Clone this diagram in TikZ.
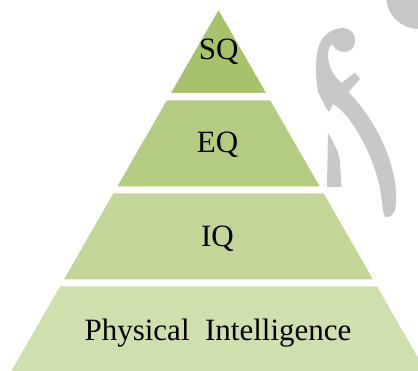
\documentclass[tikz,border=0pt]{standalone}
\usepackage{fontspec}
\setmainfont{Liberation Serif}
\usepackage{xcolor}
\usepackage{tikz}
\definecolor{sqcol}{HTML}{A6C36C}
\definecolor{eqcol}{HTML}{B4CC82}
\definecolor{iqcol}{HTML}{C3D698}
\definecolor{picol}{HTML}{D0DFAE}
\definecolor{wmgray}{HTML}{C8C8C8}

\begin{document}
\begin{tikzpicture}[x=1pt, y=-1pt,
    layer/.style={fill=#1, draw=white, line width=1pt, line join=miter},
    lbl/.style={font=\fontsize{31}{36}\selectfont, text=black, anchor=base, inner sep=0pt}]

    \useasboundingbox (0,0) rectangle (418,371);
    \clip (0,0) rectangle (418,371);

    % ── Watermark (grey f behind the pyramid) ────────────────────────────────
    \fill[wmgray] (419,-4) circle (33);
    \fill[wmgray] (318,92)
        .. controls (315,75) and (315,55) .. (320,43)
        .. controls (325,33) and (334,28) .. (343,28)
        .. controls (350,28) and (355,33) .. (355,41)
        .. controls (355,48) and (350,52) .. (344,52)
        .. controls (338,52) and (334,48) .. (332,44)
        .. controls (328,47) and (327,55) .. (329,63)
        .. controls (331,72) and (336,78) .. (341.5,83)
        -- (355,72.5) -- (360,79) -- (348.5,92)
        .. controls (362,106) and (378,128) .. (388,155)
        .. controls (395,175) and (398,195) .. (395,210)
        .. controls (393,216) and (388,218) .. (385,217)
        .. controls (383,214) and (383,208) .. (382,203)
        .. controls (380,180) and (372,158) .. (360,136)
        .. controls (352,122) and (343,110) .. (333,104)
        -- (329,112) -- (325,106) -- (321,98) -- cycle;
    \fill[wmgray] (328,133)
        .. controls (334,143) and (339,152) .. (340,162)
        -- (341.5,187) -- (327,187) -- cycle;

    % ── Pyramid layers (bottom to top) ───────────────────────────────────────
    \filldraw[layer=picol] (59.5,286) -- (377.5,286) -- (428.6,375) -- (8.4,375) -- cycle;
    \filldraw[layer=iqcol] (112.9,193) -- (324.1,193) -- (374.1,280) -- (62.9,280) -- cycle;
    \filldraw[layer=eqcol] (166.3,100) -- (270.7,100) -- (320.7,187) -- (116.3,187) -- cycle;
    \filldraw[layer=sqcol] (218.5,9) -- (266.9,93.3) -- (170.1,93.3) -- cycle;

    % ── Labels ───────────────────────────────────────────────────────────────
    \node[lbl] (sq) at (218.8,59.3) {SQ};
    \node[lbl] (eq) at (217.5,153) {EQ};
    \node[lbl] (iq) at (217.5,246.5) {IQ};
    \node[lbl] (pi) at (218,341) {Physical\ \ Intelligence};

\end{tikzpicture}
\end{document}
